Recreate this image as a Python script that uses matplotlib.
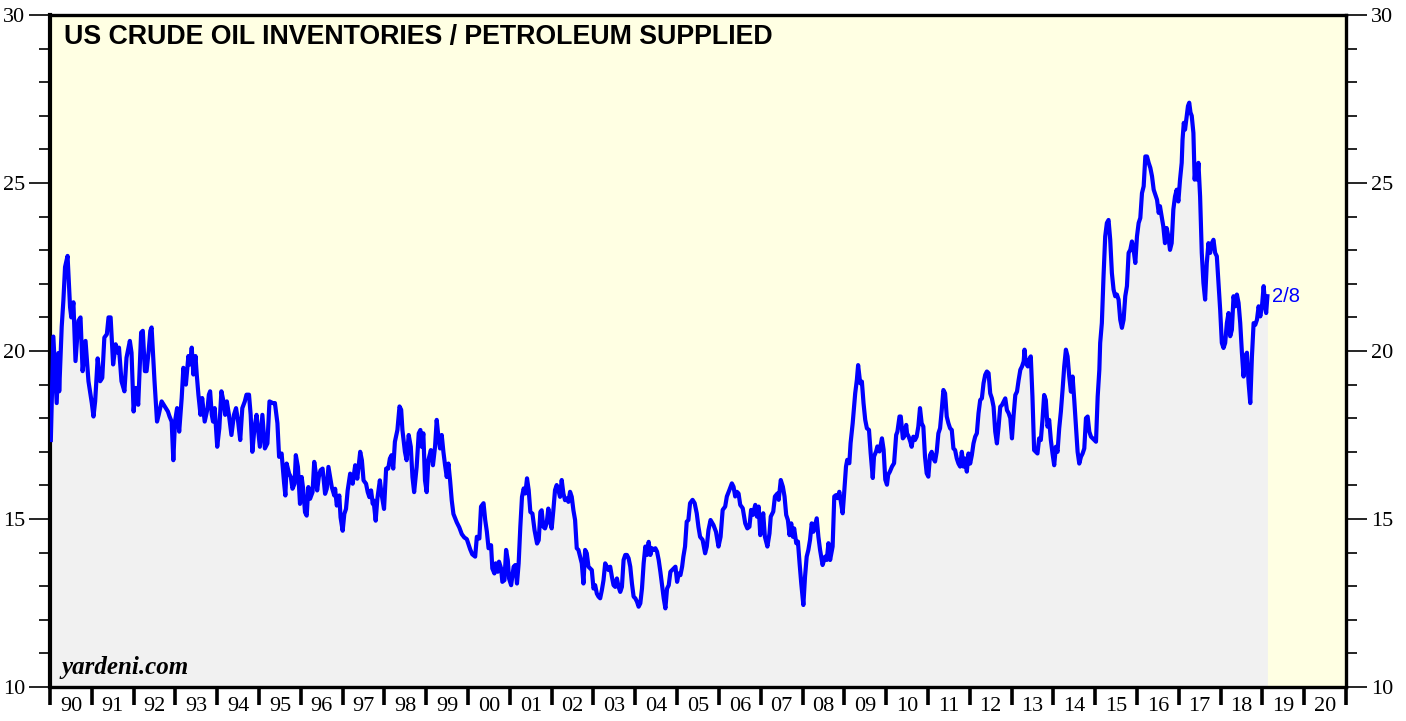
import matplotlib
matplotlib.use('Agg')
import matplotlib.pyplot as plt
from matplotlib.ticker import MultipleLocator, NullFormatter

# ratio: crude oil inventories / petroleum supplied (weekly)
t = [1990.02, 1990.08, 1990.16, 1990.20, 1990.22, 1990.28, 1990.32, 1990.36, 1990.42, 1990.48,
     1990.51, 1990.56, 1990.61, 1990.68, 1990.73, 1990.78, 1990.85, 1990.92,
     1991.00, 1991.04, 1991.08, 1991.14, 1991.20, 1991.25, 1991.30, 1991.36, 1991.40, 1991.45,
     1991.51, 1991.57, 1991.62, 1991.65, 1991.71, 1991.78, 1991.83, 1991.91, 1991.95,
     1992.00, 1992.05, 1992.11, 1992.18, 1992.22, 1992.27, 1992.31, 1992.36, 1992.40, 1992.43,
     1992.50, 1992.56, 1992.60, 1992.67, 1992.72, 1992.77, 1992.82, 1992.86, 1992.91, 1992.95, 1992.99,
     1993.04, 1993.09, 1993.15, 1993.19, 1993.25, 1993.31, 1993.35, 1993.39, 1993.43, 1993.48,
     1993.51, 1993.55, 1993.60, 1993.64, 1993.70, 1993.77, 1993.80, 1993.83, 1993.87, 1993.90, 1993.94,
     1994.00, 1994.05, 1994.10, 1994.15, 1994.19, 1994.23, 1994.28, 1994.34, 1994.40, 1994.45, 1994.50,
     1994.55, 1994.60, 1994.66, 1994.70, 1994.76, 1994.80, 1994.84, 1994.89, 1994.94,
     1995.02, 1995.08, 1995.14, 1995.20, 1995.25, 1995.33, 1995.38, 1995.44, 1995.48, 1995.54,
     1995.60, 1995.63, 1995.66, 1995.72, 1995.76, 1995.80, 1995.85, 1995.88, 1995.93, 1995.98,
     1996.02, 1996.06, 1996.10, 1996.14, 1996.18, 1996.22, 1996.28, 1996.32, 1996.36, 1996.39,
     1996.43, 1996.47, 1996.52, 1996.58, 1996.62, 1996.66, 1996.70, 1996.74, 1996.80, 1996.82,
     1996.86, 1996.92, 1996.95, 1997.00, 1997.04, 1997.08, 1997.12, 1997.18, 1997.24, 1997.30,
     1997.35, 1997.42, 1997.46, 1997.50, 1997.56, 1997.60, 1997.64, 1997.68, 1997.72, 1997.74,
     1997.79, 1997.83, 1997.89, 1997.93, 1997.99,
     1998.04, 1998.09, 1998.13, 1998.17, 1998.21, 1998.25, 1998.31, 1998.36, 1998.40, 1998.43,
     1998.49, 1998.53, 1998.58, 1998.63, 1998.67, 1998.71, 1998.77, 1998.82, 1998.86, 1998.89,
     1998.93, 1998.97, 1999.01, 1999.05, 1999.11, 1999.16, 1999.21, 1999.25, 1999.29, 1999.33,
     1999.37, 1999.41, 1999.45, 1999.49, 1999.53, 1999.57, 1999.61, 1999.65, 1999.73, 1999.79,
     1999.85, 1999.91, 1999.97, 2000.05, 2000.10,
     2000.17, 2000.21, 2000.27, 2000.31, 2000.37, 2000.41, 2000.45, 2000.49, 2000.55, 2000.58,
     2000.63, 2000.66, 2000.71, 2000.74, 2000.79, 2000.82, 2000.87, 2000.91, 2000.95, 2000.98,
     2001.03, 2001.09, 2001.13, 2001.17, 2001.21, 2001.25, 2001.29, 2001.33, 2001.37, 2001.41,
     2001.45, 2001.49, 2001.54, 2001.59, 2001.65, 2001.69, 2001.73, 2001.76, 2001.80, 2001.84,
     2001.88, 2001.92, 2001.96, 2002.00, 2002.04, 2002.08, 2002.12, 2002.16, 2002.20, 2002.24,
     2002.28, 2002.32, 2002.36, 2002.40, 2002.44, 2002.48, 2002.52, 2002.56, 2002.60, 2002.64,
     2002.68, 2002.72, 2002.76, 2002.80, 2002.84, 2002.88, 2002.92, 2002.96, 2003.00, 2003.04,
     2003.08, 2003.12, 2003.16, 2003.20, 2003.24, 2003.28, 2003.32, 2003.36, 2003.40, 2003.44,
     2003.48, 2003.52, 2003.56, 2003.60, 2003.64, 2003.68, 2003.72, 2003.76, 2003.80, 2003.84,
     2003.88, 2003.92, 2003.96, 2004.00, 2004.04, 2004.08, 2004.12, 2004.16, 2004.20, 2004.24,
     2004.28, 2004.32, 2004.36, 2004.40, 2004.44, 2004.48, 2004.52, 2004.56, 2004.60, 2004.64,
     2004.68, 2004.72, 2004.76, 2004.80, 2004.84, 2004.88, 2004.92, 2004.96, 2005.00, 2005.04,
     2005.08, 2005.12, 2005.15, 2005.19, 2005.23, 2005.27, 2005.31, 2005.37, 2005.42, 2005.47,
     2005.51, 2005.55, 2005.61, 2005.67, 2005.71, 2005.75, 2005.80, 2005.87, 2005.93, 2005.99,
     2006.04, 2006.09, 2006.15, 2006.19, 2006.25, 2006.31, 2006.35, 2006.39, 2006.43, 2006.47,
     2006.51, 2006.57, 2006.63, 2006.68, 2006.73, 2006.77, 2006.81, 2006.87, 2006.91, 2006.95,
     2006.99, 2007.02, 2007.06, 2007.10, 2007.16, 2007.21, 2007.24, 2007.30, 2007.34, 2007.40,
     2007.43, 2007.48, 2007.53, 2007.57, 2007.61, 2007.65, 2007.69, 2007.73, 2007.77, 2007.80,
     2007.85, 2007.89, 2007.93, 2007.97, 2008.02, 2008.06, 2008.10, 2008.14, 2008.18, 2008.22,
     2008.26, 2008.30, 2008.34, 2008.38, 2008.42, 2008.48, 2008.54, 2008.58, 2008.62, 2008.66,
     2008.72, 2008.76, 2008.80, 2008.84, 2008.88, 2008.91, 2008.96, 2008.99, 2009.04, 2009.07,
     2009.12, 2009.15, 2009.20, 2009.26, 2009.30, 2009.33, 2009.38, 2009.42, 2009.46, 2009.50,
     2009.54, 2009.59, 2009.63, 2009.68, 2009.71, 2009.76, 2009.79, 2009.84, 2009.90, 2009.94,
     2009.98, 2010.02, 2010.05, 2010.09, 2010.14, 2010.19, 2010.24, 2010.27, 2010.32, 2010.35,
     2010.40, 2010.43, 2010.48, 2010.50, 2010.54, 2010.58, 2010.61, 2010.65, 2010.69, 2010.73,
     2010.77, 2010.81, 2010.85, 2010.89, 2010.93, 2010.97, 2011.01, 2011.05, 2011.09, 2011.13,
     2011.17, 2011.21, 2011.25, 2011.29, 2011.33, 2011.37, 2011.41, 2011.45, 2011.49, 2011.53,
     2011.57, 2011.61, 2011.65, 2011.69, 2011.73, 2011.77, 2011.81, 2011.85, 2011.89, 2011.93,
     2011.97, 2012.01, 2012.05, 2012.09, 2012.13, 2012.17, 2012.21, 2012.25, 2012.29, 2012.33,
     2012.37, 2012.41, 2012.45, 2012.49, 2012.53, 2012.57, 2012.61, 2012.65, 2012.69, 2012.73,
     2012.77, 2012.81, 2012.85, 2012.89, 2012.93, 2012.97, 2013.01, 2013.05, 2013.09, 2013.13,
     2013.17, 2013.21, 2013.25, 2013.29, 2013.31, 2013.34, 2013.39, 2013.42, 2013.46, 2013.50,
     2013.54, 2013.58, 2013.62, 2013.66, 2013.70, 2013.74, 2013.78, 2013.82, 2013.86, 2013.90,
     2013.94, 2013.98, 2014.02, 2014.06, 2014.10, 2014.14, 2014.18, 2014.22, 2014.26, 2014.30,
     2014.34, 2014.38, 2014.42, 2014.46, 2014.50, 2014.54, 2014.58, 2014.62, 2014.66, 2014.70,
     2014.74, 2014.78, 2014.82, 2014.86, 2014.90, 2014.94, 2014.98, 2015.02, 2015.06, 2015.10,
     2015.12, 2015.16, 2015.20, 2015.24, 2015.28, 2015.32, 2015.36, 2015.40, 2015.44, 2015.48,
     2015.52, 2015.56, 2015.60, 2015.64, 2015.68, 2015.72, 2015.76, 2015.80, 2015.84, 2015.88,
     2015.92, 2015.96, 2016.00, 2016.04, 2016.08, 2016.12, 2016.16, 2016.20, 2016.24, 2016.28,
     2016.32, 2016.36, 2016.40, 2016.44, 2016.48, 2016.52, 2016.55, 2016.59, 2016.63, 2016.67,
     2016.71, 2016.75, 2016.79, 2016.83, 2016.87, 2016.91, 2016.95, 2016.99, 2017.03, 2017.07,
     2017.09, 2017.12, 2017.15, 2017.19, 2017.22, 2017.25, 2017.28, 2017.31, 2017.35, 2017.38,
     2017.41, 2017.44, 2017.47, 2017.51, 2017.55, 2017.59, 2017.63, 2017.67, 2017.71, 2017.75,
     2017.79, 2017.83, 2017.87, 2017.91, 2017.95, 2017.99, 2018.03, 2018.07, 2018.11, 2018.15,
     2018.19, 2018.23, 2018.27, 2018.31, 2018.35, 2018.39, 2018.43, 2018.47, 2018.51, 2018.55,
     2018.59, 2018.63, 2018.67, 2018.71, 2018.75, 2018.79, 2018.83, 2018.87, 2018.91, 2018.95,
     2018.99, 2019.03, 2019.07, 2019.09, 2019.12]

ratio = [17.35, 20.43, 18.45, 19.94, 18.80, 20.72, 21.50, 22.50, 22.83, 21.30,
         21.00, 21.45, 19.70, 20.90, 21.00, 19.40, 20.30, 19.10,
         18.45, 18.05, 18.50, 19.78, 19.10, 19.20, 20.40, 20.50, 21.00, 21.00,
         19.60, 20.20, 19.95, 20.10, 19.10, 18.80, 19.80, 20.30, 19.95,
         18.20, 18.90, 18.40, 20.55, 20.60, 19.40, 19.40, 20.00, 20.60, 20.70,
         19.10, 17.90, 18.10, 18.50, 18.40, 18.30, 18.20, 18.05, 17.90, 16.75, 17.90,
         18.30, 17.60, 18.60, 19.50, 19.00, 19.85, 19.60, 20.10, 19.30, 19.85,
         19.30, 18.70, 18.10, 18.60, 17.90, 18.30, 18.70, 18.80, 18.10, 17.90, 18.30,
         17.15, 17.70, 18.80, 18.50, 18.10, 18.50, 18.10, 17.50, 18.10, 18.30, 17.90,
         17.35, 18.30, 18.50, 18.70, 18.70, 18.10, 17.00, 17.70, 18.10,
         17.15, 18.10, 17.10, 17.25, 18.50, 18.45, 18.45, 17.85, 16.85, 16.95,
         16.06, 15.70, 16.65, 16.35, 16.25, 15.90, 16.05, 16.90, 16.55, 15.45,
         16.25, 15.85, 15.20, 15.10, 15.95, 15.60, 15.80, 16.70, 16.35, 15.85,
         16.25, 16.45, 16.50, 15.75, 15.90, 16.55, 16.25, 15.95, 15.70, 15.90,
         15.40, 15.70, 15.05, 14.65, 15.15, 15.30, 15.85, 16.35, 16.05, 16.60,
         16.20, 17.00, 16.75, 16.15, 16.05, 15.80, 15.65, 15.85, 15.45, 15.55,
         14.95, 15.60, 16.15, 15.75, 15.30,
         16.50, 16.50, 16.80, 16.90, 16.50, 17.30, 17.65, 18.35, 18.25, 17.65,
         17.00, 16.75, 17.50, 17.15, 16.25, 15.80, 16.55, 17.55, 17.65, 17.15,
         17.55, 16.15, 15.80, 16.75, 17.05, 16.60, 17.15, 17.95, 17.45, 17.10,
         17.50, 17.00, 16.60, 16.25, 16.65, 16.15, 15.55, 15.15, 14.90, 14.75,
         14.55, 14.45, 14.40, 14.10, 13.95,
         13.88, 14.47, 14.42, 15.37, 15.47, 14.97, 14.62, 14.13, 14.22, 13.53,
         13.38, 13.68, 13.43, 13.73, 13.53, 13.13, 13.18, 14.08, 13.78, 13.23,
         13.03, 13.58, 13.63, 13.08, 13.68, 14.77, 15.66, 15.91, 15.76, 16.21,
         15.86, 15.21, 15.16, 14.67, 14.27, 14.37, 15.21, 15.26, 14.77, 14.72,
         14.87, 15.31, 14.97, 14.72, 15.26, 15.86, 16.01, 15.86, 15.66, 16.16,
         15.76, 15.56, 15.61, 15.51, 15.81, 15.66, 15.26, 14.97, 14.13, 14.08,
         13.88, 13.68, 13.08, 14.08, 13.98, 13.58, 13.53, 13.48, 12.93, 13.03,
         12.78, 12.69, 12.64, 12.88, 13.18, 13.68, 13.58, 13.48, 13.58, 13.28,
         13.03, 12.98, 13.23, 12.98, 12.83, 12.98, 13.78, 13.93, 13.93, 13.83,
         13.58, 13.08, 12.69, 12.64, 12.54, 12.39, 12.49, 12.93, 13.68, 14.18,
         13.93, 14.32, 13.93, 14.13, 14.08, 14.13, 14.03, 13.78, 13.43, 13.03,
         12.64, 12.34, 12.93, 13.03, 13.43, 13.48, 13.53, 13.58, 13.13, 13.38,
         13.33, 13.58, 13.88, 14.18, 14.92, 14.97, 15.47, 15.57, 15.47, 15.17,
         14.77, 14.47, 14.38, 13.98, 14.18, 14.67, 14.97, 14.82, 14.62, 14.18,
         14.47, 15.27, 15.37, 15.67, 15.86, 16.06, 15.96, 15.67, 15.81, 15.76,
         15.42, 15.32, 14.87, 14.72, 14.77, 15.27, 15.12, 15.42, 15.07, 15.37,
         14.52, 14.77, 15.17, 14.47, 14.18, 14.57, 15.07, 15.22, 15.67, 15.76,
         15.57, 16.16, 15.96, 15.67, 15.12, 14.97, 14.52, 14.87, 14.47, 14.72,
         14.28, 14.33, 13.68, 13.08, 12.44, 13.28, 13.88, 14.08, 14.38, 14.87,
         14.62, 14.82, 15.02, 14.47, 14.08, 13.63, 13.88, 13.78, 14.28, 13.78,
         14.18, 15.67, 15.71, 15.62, 15.81, 15.57, 15.17, 15.67, 16.56, 16.76,
         16.66, 17.26, 17.85, 18.74, 19.14, 19.58, 19.04, 19.09, 18.44, 17.95,
         17.70, 17.65, 16.96, 16.22, 16.86, 17.01, 17.16, 17.01, 17.40, 17.06,
         16.17, 16.02, 16.32, 16.41, 16.56, 16.66, 17.50, 17.60, 18.05, 18.05,
         17.40, 17.45, 17.80, 17.55, 17.45, 17.30, 17.15, 17.45, 17.35, 17.45,
         17.75, 18.30, 17.85, 17.75, 16.85, 16.36, 16.26, 16.90, 17.00, 16.80,
         16.71, 17.00, 17.55, 17.70, 18.24, 18.84, 18.74, 18.05, 17.85, 17.70,
         17.65, 17.10, 17.05, 16.80, 16.65, 16.56, 17.00, 16.56, 16.80, 16.41,
         16.95, 16.65, 16.90, 17.25, 17.45, 17.55, 18.15, 18.54, 18.59, 19.04,
         19.29, 19.39, 19.34, 18.74, 18.59, 18.34, 17.60, 17.25, 17.75, 18.34,
         18.39, 18.49, 18.59, 18.24, 18.15, 18.00, 17.40, 18.10, 18.69, 18.79,
         19.14, 19.44, 19.54, 19.69, 20.04, 19.64, 19.54, 19.74, 19.84, 18.64,
         17.05, 17.00, 16.95, 17.40, 17.35, 17.95, 18.69, 18.54, 17.75, 17.95,
         17.35, 16.95, 16.60, 17.15, 17.00, 17.70, 18.20, 18.84, 19.54, 20.04,
         19.84, 19.24, 18.79, 19.24, 18.54, 17.75, 17.00, 16.65, 16.85, 16.95,
         17.10, 18.00, 18.05, 17.60, 17.45, 17.40, 17.35, 17.30, 18.64, 19.44,
         20.24, 20.83, 22.22, 23.41, 23.81, 23.90, 23.31, 22.32, 21.83, 21.63,
         21.68, 21.53, 20.93, 20.69, 20.93, 21.63, 21.93, 22.92, 23.01, 23.26,
         23.01, 22.62, 23.41, 23.81, 23.96, 24.70, 24.90, 25.79, 25.79, 25.60,
         25.45, 25.20, 24.80, 24.65, 24.50, 24.11, 24.31, 24.01, 23.71, 23.21,
         23.66, 23.41, 23.01, 23.21, 24.21, 24.60, 24.80, 24.45, 25.10, 25.60,
         26.29, 26.79, 26.59, 26.99, 27.29, 27.39, 27.10, 27.00, 26.49, 25.10,
         25.50, 25.10, 25.60, 24.60, 22.92, 22.02, 21.53, 22.62, 23.21, 22.92,
         23.21, 23.31, 22.92, 22.82, 22.02, 21.23, 20.24, 20.09, 20.24, 20.83,
         21.13, 20.44, 20.63, 21.63, 21.33, 21.68, 21.43, 20.83, 19.95, 19.24,
         19.84, 19.95, 19.05, 18.45, 19.84, 20.83, 20.78, 20.93, 21.33, 21.03,
         21.33, 21.93, 21.33, 21.13, 21.63]

year_labels = ['90', '91', '92', '93', '94', '95', '96', '97', '98', '99',
               '00', '01', '02', '03', '04', '05', '06', '07', '08', '09',
               '10', '11', '12', '13', '14', '15', '16', '17', '18', '19', '20']
last_label = '2/8'

serif = ['Liberation Serif', 'DejaVu Serif']
sans = ['Liberation Sans', 'DejaVu Sans']

fig = plt.figure(figsize=(14.06, 7.21), dpi=100)
ax = fig.add_axes([50 / 1406, 34 / 721, 1296 / 1406, 672 / 721])
ax.set_facecolor('#ffffe3')

ax.fill_between(t, ratio, 10, color='#f1f1f1', linewidth=0, zorder=1)
ax.plot(t, ratio, color='#0000ff', linewidth=3, zorder=3)
ax.text(t[-1] + 0.12, ratio[-1], last_label, color='#0000ff', fontsize=14.5,
        family=sans, va='center', ha='left')

ax.set_xlim(1990, 2021)
ax.set_ylim(10, 30)

# y axis: labels on both sides
ax.yaxis.set_major_locator(MultipleLocator(5))
ax.yaxis.set_minor_locator(MultipleLocator(1))
ax.tick_params(axis='y', which='both', left=True, right=True, labelleft=True,
               labelright=True, direction='out', width=1.2, labelsize=16, pad=3)
ax.tick_params(axis='y', which='major', length=15)
ax.tick_params(axis='y', which='minor', length=8)

# x axis: ticks on year boundaries, labels centred inside each year
ax.xaxis.set_major_locator(MultipleLocator(1))
ax.xaxis.set_major_formatter(NullFormatter())
ax.set_xticks([1990.5 + i for i in range(len(year_labels))], year_labels, minor=True)
ax.tick_params(axis='x', which='major', direction='out', length=13, width=2.6)
ax.tick_params(axis='x', which='minor', length=0, labelsize=16, pad=7)

for lab in ax.get_xticklabels(minor=True) + ax.get_yticklabels():
    lab.set_family(serif)
for lab in ax.yaxis.get_majorticklabels():
    lab.set_family(serif)

for side in ['left', 'right', 'top', 'bottom']:
    ax.spines[side].set_linewidth(2.4)
ax.spines['left'].set_linewidth(3)

ax.text(0.011, 0.986, 'US CRUDE OIL INVENTORIES / PETROLEUM SUPPLIED', transform=ax.transAxes,
        fontsize=19.3, fontweight='bold', family=sans, va='top', ha='left')
ax.text(0.009, 0.012, 'yardeni.com', transform=ax.transAxes, fontsize=18,
        fontweight='bold', style='italic', family=serif, va='bottom', ha='left')

fig.savefig('out.png', dpi=100)
